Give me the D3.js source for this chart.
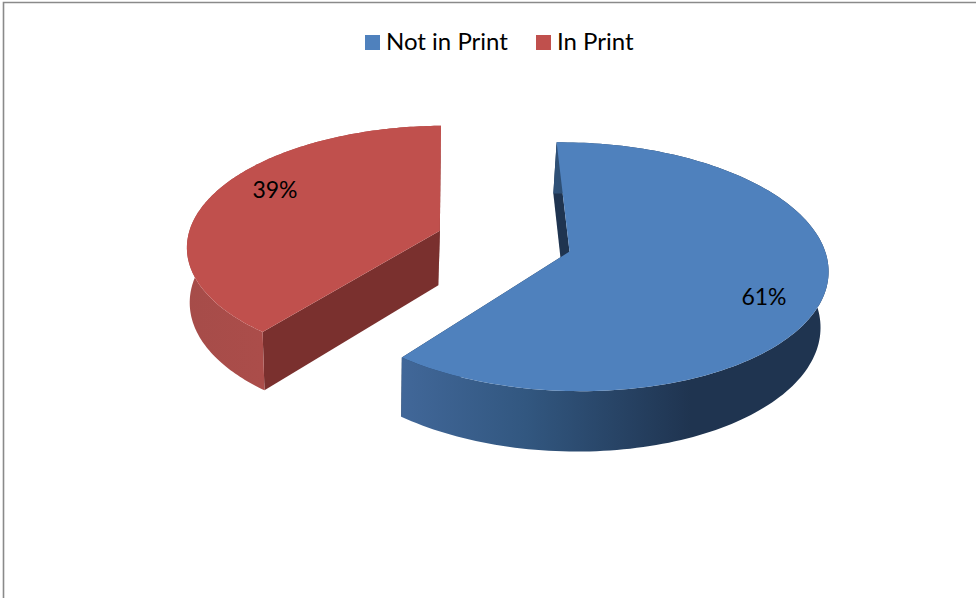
<!DOCTYPE html>
<html><head><meta charset="utf-8">
<script src="https://cdn.jsdelivr.net/npm/d3@7/dist/d3.min.js"></script>
<style>html,body{margin:0;padding:0;background:#fff}svg{display:block}text{font-family:Lato,"Open Sans",sans-serif;fill:#000}</style>
</head><body><svg id="c" width="976" height="598"></svg>
<script>
const categories = ["Not in Print", "In Print"];
const shares = [61, 39];
const labels = ["61%", "39%"];

const topColor = d3.scaleOrdinal(categories, ["#4f81bd", "#c0504d"]);
const cutColor = d3.scaleOrdinal(categories, ["#1f3450", "#7a302e"]);
const wallFill = d3.scaleOrdinal(categories, ["url(#wall0)", "url(#wall1)"]);

const svg = d3.select("#c");
const W = 976, H = 598;
svg.append("path").attr("d", `M3.5 ${H}V2.5H${W}`).attr("fill", "none").attr("stroke", "#8a8a8a").attr("stroke-width", 1.6);

// camera
const x0 = 504, y0 = 241, A = 120, B = 253, D = 56, d = 8.27, g = 0.14, shear = -2.5, explode = 0.27, skew = 2;
const rot = -1 * Math.PI / 180;
const project = (u, v, h) => {
  const f = d / (d - v + g * h);
  return [x0 + (B * u + skew * v) * f + shear * h, y0 + (A * v + D * h) * f];
};

const pie = d3.pie().sort(null).value(v => v).startAngle(rot).endAngle(rot + 2 * Math.PI);
const arcs = pie(shares).map((a, i) => ({ ...a, name: categories[i], label: labels[i] }));
const line = d3.line();
const centre = a => {
  const m = (a.startAngle + a.endAngle) / 2;
  return [explode * Math.sin(m), -explode * Math.cos(m)];
};
const rim = (a, t, h) => {
  const [cu, cv] = centre(a);
  const ang = a.startAngle + t * (a.endAngle - a.startAngle);
  return project(cu + Math.sin(ang), cv - Math.cos(ang), h);
};
const ts = d3.range(0, 1.0001, 1 / 160);

const defs = svg.append("defs");
const grad = (id, x1, x2, stops) => {
  const s = defs.append("linearGradient").attr("id", id).attr("gradientUnits", "userSpaceOnUse")
    .attr("x1", x1).attr("x2", x2).attr("y1", 0).attr("y2", 0);
  stops.forEach(([o, c]) => s.append("stop").attr("offset", o).attr("stop-color", c));
};
grad("wall0", 395, 830, [[0, "#42689a"], [0.3, "#325780"], [0.68, "#1f3450"], [1, "#1f3450"]]);
grad("wall1", 187, 262, [[0, "#a64c49"], [1, "#ab4d4a"]]);

const g3d = svg.append("g");
arcs.forEach(a => {
  const [cu, cv] = centre(a);
  const c0 = project(cu, cv, 0), c1 = project(cu, cv, 1);
  [0, 1].forEach(t => {
    g3d.append("path").attr("d", line([c0, rim(a, t, 0), rim(a, t, 1), c1]) + "Z")
      .attr("fill", cutColor(a.name));
  });
  const wall = ts.map(t => rim(a, t, 0)).concat(ts.slice().reverse().map(t => rim(a, t, 1)));
  g3d.append("path").attr("d", line(wall) + "Z").attr("fill", wallFill(a.name));
  g3d.append("path").attr("d", line([c0].concat(ts.map(t => rim(a, t, 0)))) + "Z")
    .attr("fill", topColor(a.name));
});

const labelPos = { "Not in Print": [764, 296], "In Print": [275, 189] };
svg.append("g").selectAll("text").data(arcs).join("text")
  .attr("x", a => labelPos[a.name][0]).attr("y", a => labelPos[a.name][1])
  .attr("text-anchor", "middle").attr("dominant-baseline", "central")
  .attr("font-size", 23).text(a => a.label);

const legendX = d3.scaleOrdinal(categories, [365, 536]);
const lg = svg.append("g").selectAll("g").data(categories).join("g")
  .attr("transform", c => `translate(${legendX(c)},35)`);
lg.append("rect").attr("width", 15).attr("height", 15).attr("fill", c => topColor(c));
lg.append("text").attr("x", 21).attr("y", 15).attr("font-size", 24).text(c => c);
</script></body></html>
